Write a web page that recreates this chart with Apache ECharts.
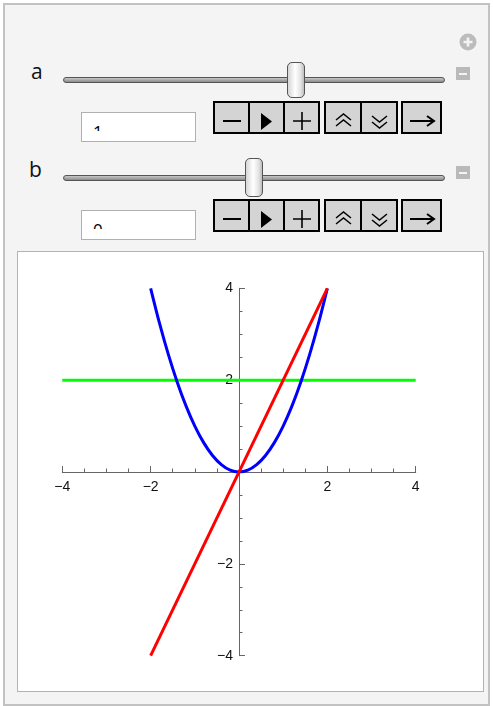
<!DOCTYPE html>
<html>
<head>
<meta charset="utf-8">
<script src="https://cdn.jsdelivr.net/npm/echarts@6/dist/echarts.min.js"></script>
<style>
body { margin: 0; background: #fff; font-family: "Open Sans", "DejaVu Sans", sans-serif; }
#outer { position: absolute; left: 3px; top: 3px; width: 487px; height: 703px; box-sizing: border-box; border: 2px solid #c2c2c2; background: #f4f4f4; }
.abs { position: absolute; }
.lbl { position: absolute; font-size: 21px; line-height: 21px; color: #111; }
.track { position: absolute; left: 63px; width: 380px; height: 4px; border: 1px solid #555; border-radius: 3px; background: linear-gradient(#c8c8c8, #8a8a8a); }
.thumb { position: absolute; width: 16px; border: 1px solid #555; border-radius: 5px; background: linear-gradient(90deg, #d6d6d6, #fff 45%, #e2e2e2 80%, #bdbdbd); }
.minus { position: absolute; left: 456px; width: 14px; height: 13px; background: #b9b9b9; }
.minus:after { content: ""; position: absolute; left: 3px; top: 6px; width: 8px; height: 2px; background: #f4f4f4; }
.box { position: absolute; left: 81px; width: 115px; height: 30px; box-sizing: border-box; border: 1px solid #b0b0b0; background: #fff; }
.clip { position: absolute; left: 11px; top: 0; width: 60px; overflow: hidden; }
.clip span { position: absolute; left: 0; font-size: 17px; line-height: 17px; color: #000; }
.grp { position: absolute; display: flex; border: 2px solid #000; background: #d4d4d4; height: 29px; }
.btn { height: 29px; border-left: 2px solid #000; }
.btn:first-child { border-left: none; }
.btn svg { display: block; }
#panel { position: absolute; left: 17px; top: 251px; width: 467px; height: 441px; box-sizing: border-box; border: 1px solid #b3b3b3; background: #fff; }
#chart { position: absolute; left: 0; top: 0; width: 465px; height: 439px; }
</style>
</head>
<body>
<div id="outer"></div>

<!-- add control -->
<svg class="abs" style="left:459px;top:33px" width="18" height="18"><circle cx="9" cy="9" r="8.5" fill="#bcbcbc"/><path d="M9 4.5V13.5M4.5 9H13.5" stroke="#f4f4f4" stroke-width="2.6"/></svg>

<!-- a -->
<div class="lbl" style="left:31px;top:61px">a</div>
<div class="track" style="top:77px"></div>
<div class="thumb" style="left:287px;top:62px;height:34px"></div>
<div class="minus" style="top:67px"></div>
<div class="box" style="top:112px"><div class="clip" style="height:18px"><span id="va" style="top:10px"></span></div></div>
<div id="btnsA"></div>

<!-- b -->
<div class="lbl" style="left:29px;top:159px">b</div>
<div class="track" style="top:175px"></div>
<div class="thumb" style="left:245px;top:158px;height:37px"></div>
<div class="minus" style="top:166px"></div>
<div class="box" style="top:210px"><div class="clip" style="height:18px"><span id="vb" style="top:10px"></span></div></div>
<div id="btnsB"></div>

<div id="panel"><div id="chart"></div></div>

<script>
// slider values
const aValue = 1
const bValue = 0

// curves
const parabolaX = [-2, -1.8, -1.6, -1.4, -1.2, -1, -0.8, -0.6, -0.4, -0.2, 0, 0.2, 0.4, 0.6, 0.8, 1, 1.2, 1.4, 1.6, 1.8, 2]
const parabolaY = [4, 3.24, 2.56, 1.96, 1.44, 1, 0.64, 0.36, 0.16, 0.04, 0, 0.04, 0.16, 0.36, 0.64, 1, 1.44, 1.96, 2.56, 3.24, 4]
const lineX = [-2, 2]
const lineY = [-4, 4]
const levelX = [-4, 4]
const levelY = [2, 2]

// axis ticks
const xTicks = [-4, -2, 2, 4]
const yTicks = [-4, -2, 2, 4]

document.getElementById('va').textContent = aValue
document.getElementById('vb').textContent = bValue

const icons = [
    '<path d="M8 16H26" stroke="#000" stroke-width="2"/>',
    '<path d="M11 8L22 16.5L11 25Z" fill="#000"/>',
    '<path d="M8 16H26M17 7V25" stroke="#000" stroke-width="1.6"/>',
    '<path d="M10 15L17.5 9L25 15M10 21L17.5 15L25 21" stroke="#000" stroke-width="1.5" fill="none"/>',
    '<path d="M10 11L17.5 17L25 11M10 17L17.5 23L25 17" stroke="#000" stroke-width="1.5" fill="none"/>',
    '<path d="M7 16H30M24 11L31 16L24 21" stroke="#000" stroke-width="2" fill="none"/>'
]

function buttonRow(id, top) {
    const groups = [[213, [0, 1, 2], 33], [324, [3, 4], 34], [401, [5], 37]]
    let html = ''
    groups.forEach(g => {
        html += '<div class="grp" style="left:' + g[0] + 'px;top:' + top + 'px">'
        g[1].forEach(i => {
            html += '<div class="btn"><svg width="' + g[2] + '" height="29" viewBox="0 -2 ' + g[2] + ' 29">' + icons[i] + '</svg></div>'
        })
        html += '</div>'
    })
    document.getElementById(id).innerHTML = html
}
buttonRow('btnsA', 101)
buttonRow('btnsB', 199)

function pairs(xs, ys) {
    return xs.map((x, i) => [x, ys[i]])
}

function tickLabel(v) {
    if (v === 0) return ''
    return v < 0 ? '\u2212' + (-v) : String(v)
}

const gridBox = { left: 44.3, top: 36.3, width: 353.4, height: 367.4 }

function axisStyle() {
    return {
        axisLine: { onZero: false, lineStyle: { color: '#666', width: 1 } },
        axisTick: { inside: true, length: 6, lineStyle: { color: '#666' } },
        minorTick: { show: true, splitNumber: 4, length: 3.5, lineStyle: { color: '#666' } },
        splitLine: { show: false },
        minorSplitLine: { show: false }
    }
}

const chart = echarts.init(document.getElementById('chart'))

const option = {
    animation: false,
    grid: gridBox,
    xAxis: Object.assign({
        type: 'value', min: -4, max: 4, interval: 2,
        position: 'bottom', offset: -gridBox.height / 2,
        axisLabel: {
            color: '#111', fontSize: 14, fontFamily: 'Liberation Sans', margin: 8,
            formatter: v => xTicks.includes(v) ? tickLabel(v) : ''
        }
    }, axisStyle()),
    yAxis: Object.assign({
        type: 'value', min: -4, max: 4, interval: 2,
        position: 'left', offset: -gridBox.width / 2,
        axisLabel: {
            color: '#111', fontSize: 14, fontFamily: 'Liberation Sans', margin: 6,
            formatter: v => yTicks.includes(v) ? tickLabel(v) : ''
        }
    }, axisStyle()),
    series: [
        {
            type: 'line', data: pairs(levelX, levelY), symbol: 'none',
            lineStyle: { color: '#00ff00', width: 3 }
        },
        {
            type: 'line', data: pairs(parabolaX, parabolaY), symbol: 'none', smooth: 0.3,
            lineStyle: { color: '#0000ff', width: 3 }
        },
        {
            type: 'line', data: pairs(lineX, lineY), symbol: 'none',
            lineStyle: { color: '#ff0000', width: 3 }
        }
    ]
}

chart.setOption(option)
</script>
</body>
</html>
